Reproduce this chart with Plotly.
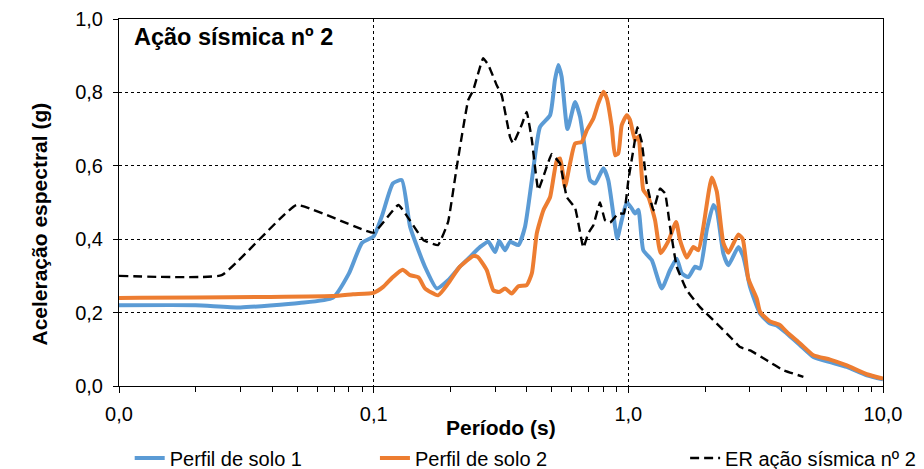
import plotly.graph_objects as go

# ---- data ----
period_solo1 = [0.010, 0.020, 0.030, 0.051, 0.069, 0.080, 0.090, 0.100, 0.108, 0.119, 0.129, 0.139,
                0.159, 0.177, 0.196, 0.218, 0.239, 0.262, 0.282, 0.300, 0.311, 0.328, 0.343, 0.370,
                0.393, 0.418, 0.450, 0.493, 0.515, 0.531, 0.547, 0.577, 0.618, 0.646, 0.676, 0.707,
                0.740, 0.798, 0.834, 0.887, 0.905, 0.942, 0.986, 1.031, 1.062, 1.095, 1.145, 1.236,
                1.353, 1.458, 1.549, 1.621, 1.721, 1.828, 1.912, 2.032, 2.157, 2.225, 2.361, 2.471,
                2.704, 2.829, 3.006, 3.291, 3.603, 3.827, 4.19, 4.725, 5.33, 6.20, 7.21, 8.64, 10.0]
accel_solo1 = [0.220, 0.220, 0.214, 0.226, 0.240, 0.307, 0.390, 0.408, 0.465, 0.552, 0.561, 0.434,
               0.325, 0.266, 0.288, 0.325, 0.352, 0.379, 0.393, 0.365, 0.395, 0.370, 0.393, 0.384,
               0.434, 0.561, 0.706, 0.738, 0.834, 0.875, 0.843, 0.700, 0.774, 0.734, 0.643, 0.561,
               0.552, 0.593, 0.561, 0.434, 0.402, 0.452, 0.500, 0.484, 0.470, 0.480, 0.370, 0.343,
               0.266, 0.316, 0.347, 0.307, 0.297, 0.325, 0.320, 0.425, 0.493, 0.479, 0.361, 0.329,
               0.379, 0.352, 0.270, 0.197, 0.170, 0.165, 0.143, 0.111, 0.079, 0.065, 0.052, 0.029, 0.018]

period_solo2 = [0.010, 0.069, 0.083, 0.100, 0.109, 0.119, 0.130, 0.139, 0.150, 0.159, 0.179, 0.196,
                0.218, 0.246, 0.256, 0.278, 0.295, 0.311, 0.328, 0.348, 0.370, 0.399, 0.418, 0.437,
                0.464, 0.493, 0.524, 0.540, 0.564, 0.590, 0.618, 0.656, 0.687, 0.729, 0.762, 0.798,
                0.823, 0.861, 0.887, 0.913, 0.942, 0.986, 1.015, 1.063, 1.095, 1.145, 1.198, 1.273,
                1.340, 1.436, 1.540, 1.596, 1.696, 1.800, 1.884, 1.971, 2.126, 2.225, 2.361, 2.471,
                2.704, 2.814, 2.960, 3.194, 3.291, 3.600, 3.943, 4.19, 4.725, 5.33, 6.20, 7.21, 8.64, 10.0]
accel_solo2 = [0.240, 0.245, 0.250, 0.254, 0.270, 0.297, 0.317, 0.302, 0.296, 0.266, 0.247, 0.279,
               0.325, 0.354, 0.352, 0.316, 0.261, 0.256, 0.266, 0.252, 0.272, 0.275, 0.307, 0.416,
               0.479, 0.515, 0.615, 0.620, 0.543, 0.606, 0.661, 0.665, 0.697, 0.729, 0.770, 0.802,
               0.784, 0.706, 0.629, 0.634, 0.711, 0.738, 0.725, 0.670, 0.679, 0.534, 0.515, 0.452,
               0.362, 0.395, 0.447, 0.397, 0.350, 0.379, 0.370, 0.434, 0.568, 0.530, 0.390, 0.363,
               0.413, 0.400, 0.292, 0.238, 0.202, 0.176, 0.166, 0.147, 0.116, 0.084, 0.072, 0.056, 0.032, 0.020]

period_er = [0.010, 0.0253, 0.0498, 0.100, 0.125, 0.157, 0.179, 0.196, 0.212, 0.235, 0.246, 0.269,
             0.282, 0.304, 0.318, 0.343, 0.353, 0.381, 0.399, 0.418, 0.443, 0.471, 0.500, 0.539,
             0.573, 0.618, 0.666, 0.696, 0.729, 0.774, 0.810, 0.848, 0.913, 0.960, 1.000, 1.046,
             1.085, 1.129, 1.181, 1.254, 1.332, 1.394, 1.458, 1.549, 1.696, 1.912, 2.225, 2.508,
             2.747, 3.006, 3.496, 4.062, 4.868]
accel_er = [0.300, 0.302, 0.493, 0.418, 0.493, 0.397, 0.384, 0.447, 0.597, 0.779, 0.806, 0.893,
            0.875, 0.820, 0.793, 0.679, 0.661, 0.711, 0.747, 0.670, 0.534, 0.584, 0.632, 0.606,
            0.515, 0.485, 0.377, 0.416, 0.438, 0.500, 0.452, 0.445, 0.470, 0.470, 0.560, 0.643,
            0.705, 0.665, 0.552, 0.479, 0.538, 0.525, 0.434, 0.325, 0.261, 0.215, 0.170, 0.134,
            0.106, 0.097, 0.070, 0.043, 0.025]

x_tickvals = [0.01, 0.1, 1, 10]
x_ticktext = ["0,0", "0,1", "1,0", "10,0"]
minor_vals = [m * d for d in (0.01, 0.1, 1) for m in range(2, 10)]

series_names = ["Perfil de solo 1", "Perfil de solo 2", "ER ação sísmica nº 2"]
chart_title = "Ação sísmica nº 2"
x_title = "Período (s)"
y_title = "Aceleração espectral (g)"

FONT = "Liberation Sans, Arial, sans-serif"

fig = go.Figure()
fig.add_trace(go.Scatter(x=period_solo1, y=accel_solo1, mode="lines", name=series_names[0],
                         line=dict(color="#5B9BD5", width=4, shape="spline", smoothing=0.5),
                         legend="legend"))
fig.add_trace(go.Scatter(x=period_solo2, y=accel_solo2, mode="lines", name=series_names[1],
                         line=dict(color="#ED7D31", width=4, shape="spline", smoothing=0.5),
                         legend="legend2"))
fig.add_trace(go.Scatter(x=period_er, y=accel_er, mode="lines", name=series_names[2],
                         line=dict(color="black", width=2.4, dash="9px,5px", shape="spline",
                                   smoothing=0.3),
                         legend="legend3"))

leg_common = dict(orientation="h", yref="container", yanchor="middle", y=0.0235,
                  xanchor="left", visible=True,
                  font=dict(family=FONT, size=20, color="black"), bgcolor="rgba(0,0,0,0)")
fig.update_layout(
    width=924, height=469,
    margin=dict(l=119, r=41, t=19, b=83, autoexpand=False),
    paper_bgcolor="white", plot_bgcolor="white",
    separators=",.",
    showlegend=True,
    font=dict(family=FONT, size=20, color="black"),
    legend=dict(x=0.014, **leg_common),
    legend2=dict(x=0.335, **leg_common),
    legend3=dict(x=0.741, **leg_common),
    xaxis=dict(type="log", range=[-2, 1], tickvals=x_tickvals, ticktext=x_ticktext,
               showgrid=True, gridcolor="black", griddash="dot", gridwidth=1,
               showline=True, linecolor="black", linewidth=1, mirror=True,
               ticks="outside", ticklen=6, tickcolor="black", ticklabelstandoff=4,
               minor=dict(tickvals=minor_vals, ticks="outside", ticklen=5, tickcolor="black",
                          showgrid=False),
               zeroline=False),
    yaxis=dict(range=[0, 1], dtick=0.2, tick0=0, tickformat=".1f",
               showgrid=True, gridcolor="black", griddash="dot", gridwidth=1,
               showline=True, linecolor="black", linewidth=1, mirror=True,
               ticks="outside", ticklen=5, tickcolor="black", ticklabelstandoff=6,
               zeroline=False),
    annotations=[
        dict(text="<b>" + chart_title + "</b>", xref="paper", yref="paper", x=0.017, y=0.951,
             xanchor="left", yanchor="middle", showarrow=False,
             font=dict(family=FONT, size=23.5, color="black")),
        dict(text="<b>" + x_title + "</b>", xref="paper", yref="paper", x=0.5, y=-0.112,
             xanchor="center", yanchor="middle", showarrow=False,
             font=dict(family=FONT, size=21, color="black")),
        dict(text="<b>" + y_title + "</b>", xref="paper", yref="paper", x=-0.1034, y=0.44,
             xanchor="center", yanchor="middle", showarrow=False, textangle=-90,
             font=dict(family=FONT, size=21, color="black")),
    ],
)

fig.write_html("out.html", config={"displayModeBar": False},
               post_script="document.body.style.margin='0';document.body.style.overflow='hidden';")
